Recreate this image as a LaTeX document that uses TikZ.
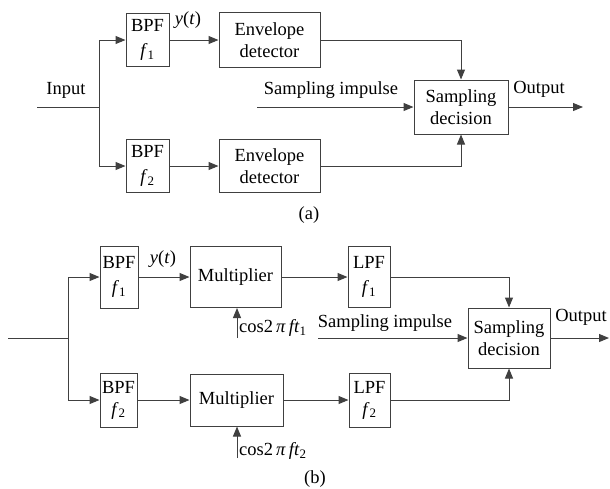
\documentclass[tikz,border=0pt]{standalone}
\usepackage{fontspec}
\setmainfont{Liberation Serif}
\usetikzlibrary{arrows.meta}
\begin{document}
\begin{tikzpicture}[x=1pt,y=-1pt,font=\fontsize{18.5}{22}\selectfont,
 blk/.style={draw=black!75,line width=1pt,align=center,inner sep=0pt},
 sz/.style 2 args={minimum width=#1pt,minimum height=#2pt},
 sig/.style={black!75,line width=1pt},
 arr/.style={sig,-{Triangle[length=10pt,width=8pt]}}]
\useasboundingbox (0,0) rectangle (610,488);
\node[blk,sz={43}{53}] (bpfA1) at (147.5,40) {BPF\\[3pt]\textit{f}\textsubscript{1}};\node[blk,sz={43}{53}] (bpfA2) at (147.5,166) {BPF\\[3pt]\textit{f}\textsubscript{2}};
\node[blk,sz={101}{55}] (envA1) at (269.5,40) {Envelope\\detector};\node[blk,sz={101}{53}] (envA2) at (269.5,166) {Envelope\\detector};
\node[blk,sz={94}{54}] (decA) at (461,107) {Sampling\\decision};
\coordinate (inA) at (37,107);\coordinate (jA) at (99,107);\coordinate (impA) at (257,107);\coordinate (outA) at (583,107);
\node (lblInA) at (66,90) {Input};\node (lblYA) at (188,20) {\textit{y}(\textit{t})};\node (lblImpA) at (331,90) {Sampling impulse};\node (lblOutA) at (539,89) {Output};\node (capA) at (309,215) {(a)};
\draw[sig] (inA)--(jA);\draw[arr] (jA) |- (bpfA1);\draw[arr] (jA) |- (bpfA2);
\draw[arr] (bpfA1)--(envA1);\draw[arr] (bpfA2)--(envA2);\draw[arr] (envA1) -| (decA);\draw[arr] (envA2) -| (decA);
\draw[arr] (impA)--(decA);\draw[arr] (decA)--(outA);
\node[blk,sz={38}{62}] (bpfB1) at (119,277) {BPF\\[3pt]\textit{f}\textsubscript{1}};\node[blk,sz={37}{54}] (bpfB2) at (118.5,400) {BPF\\\textit{f}\textsubscript{2}};
\node[blk,sz={91}{61}] (mulB1) at (235.5,277) {Multiplier};\node[blk,sz={93}{52}] (mulB2) at (236.5,400) {Multiplier};
\node[blk,sz={42}{61}] (lpfB1) at (369,277) {LPF\\[3pt]\textit{f}\textsubscript{1}};\node[blk,sz={41}{54}] (lpfB2) at (369.5,400) {LPF\\\textit{f}\textsubscript{2}};
\node[blk,sz={82}{60}] (decB) at (509,338) {Sampling\\decision};
\coordinate (inB) at (8,338);\coordinate (jB) at (68,338);\coordinate (impB) at (318,338);\coordinate (outB) at (609,338);\coordinate (cosB1) at (237,338);\coordinate (cosB2) at (237,458);
\node (lblYB) at (163,259) {\textit{y}(\textit{t})};\node (lblImpB) at (385,323) {Sampling impulse};\node (lblOutB) at (581,317) {Output};\node (capB) at (315,479) {(b)};
\node[anchor=west,inner sep=1pt] (lblCosB1) at (238,328) {cos2\,\textit{π}\,\textit{ft}\textsubscript{1}};\node[anchor=west,inner sep=1pt] (lblCosB2) at (238,451) {cos2\,\textit{π}\,\textit{ft}\textsubscript{2}};
\draw[sig] (inB)--(jB);\draw[arr] (jB) |- (bpfB1);\draw[arr] (jB) |- (bpfB2);
\draw[arr] (bpfB1)--(mulB1);\draw[arr] (bpfB2)--(mulB2);\draw[arr] (mulB1)--(lpfB1);\draw[arr] (mulB2)--(lpfB2);
\draw[arr] (cosB1)--(cosB1 |- mulB1.south);\draw[arr] (cosB2)--(cosB2 |- mulB2.south);
\draw[arr] (lpfB1) -| (decB);\draw[arr] (lpfB2) -| (decB);\draw[arr] (impB)--(decB);\draw[arr] (decB)--(outB);
\end{tikzpicture}
\end{document}
